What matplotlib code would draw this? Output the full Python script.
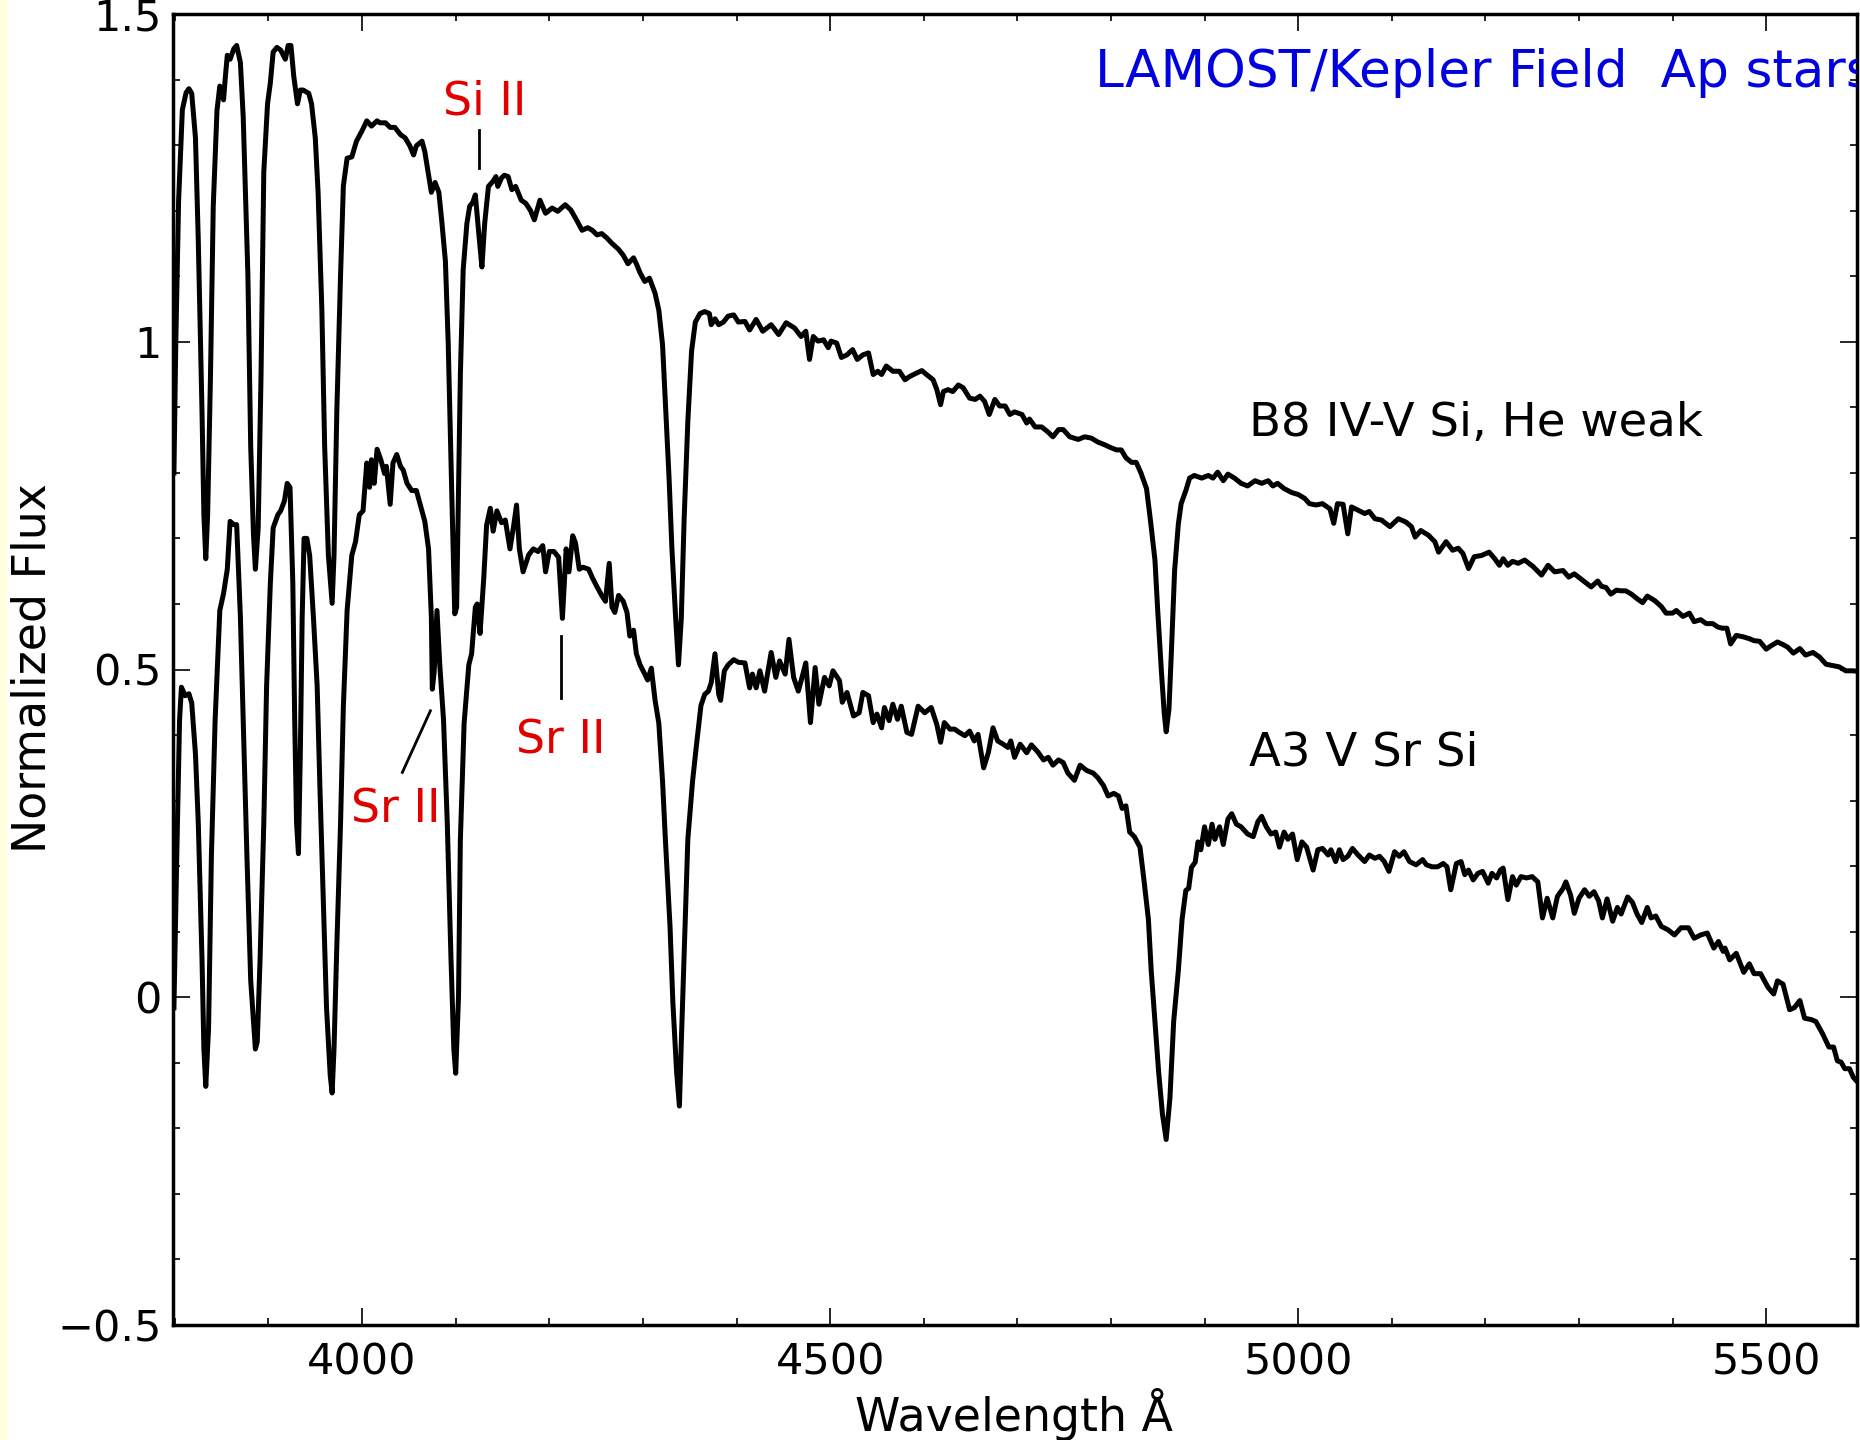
# LAMOST/Kepler field Ap star spectra: B8 IV-V Si (He weak) and A3 V Sr Si
import matplotlib
matplotlib.use("Agg")
import matplotlib.pyplot as plt
from matplotlib.ticker import MultipleLocator, FuncFormatter
from matplotlib.patches import Rectangle

# B8 IV-V Si, He weak  (upper spectrum), wavelength in Angstrom
wl_b8 = [3799, 3801, 3804, 3808, 3812, 3815, 3818, 3822, 3825, 3829,
         3831, 3833, 3835, 3838, 3841, 3845, 3848, 3850, 3852, 3854,
         3856, 3859, 3863, 3866, 3870, 3873, 3878, 3881, 3884, 3886,
         3889, 3892, 3895, 3899, 3902, 3905, 3909, 3913, 3918, 3921,
         3924, 3927, 3931, 3934, 3937, 3943, 3946, 3950, 3953, 3957,
         3960, 3964, 3968, 3970, 3973, 3977, 3980, 3984, 3989, 3994,
         4000, 4005, 4010, 4016, 4019, 4025, 4030, 4035, 4041, 4046,
         4051, 4055, 4058, 4064, 4067, 4071, 4074, 4078, 4082, 4085,
         4089, 4092, 4096, 4099, 4101, 4105, 4108, 4112, 4115, 4118,
         4121, 4125, 4128, 4131, 4135, 4140, 4143, 4145, 4149, 4152,
         4156, 4160, 4164, 4170, 4175, 4180, 4184, 4190, 4196, 4203,
         4209, 4217, 4223, 4229, 4235, 4241, 4246, 4251, 4256, 4261,
         4267, 4274, 4279, 4284, 4290, 4293, 4297, 4302, 4307, 4313,
         4317, 4321, 4324, 4328, 4331, 4335, 4338, 4341, 4344, 4348,
         4352, 4356, 4361, 4366, 4371, 4373, 4377, 4381, 4386, 4391,
         4397, 4402, 4409, 4414, 4421, 4428, 4437, 4445, 4453, 4462,
         4469, 4474, 4478, 4482, 4487, 4493, 4498, 4501, 4507, 4512,
         4518, 4524, 4529, 4535, 4541, 4546, 4551, 4555, 4560, 4567,
         4574, 4580, 4585, 4592, 4598, 4603, 4610, 4614, 4618, 4621,
         4626, 4631, 4637, 4642, 4649, 4655, 4660, 4665, 4670, 4676,
         4681, 4687, 4692, 4697, 4705, 4710, 4713, 4719, 4726, 4733,
         4738, 4744, 4749, 4756, 4765, 4772, 4779, 4786, 4793, 4799,
         4806, 4811, 4816, 4822, 4827, 4832, 4838, 4842, 4847, 4850,
         4854, 4857, 4859, 4862, 4865, 4868, 4872, 4875, 4880, 4884,
         4889, 4897, 4904, 4909, 4914, 4920, 4925, 4932, 4939, 4946,
         4954, 4961, 4968, 4973, 4978, 4985, 4993, 5000, 5007, 5012,
         5019, 5026, 5034, 5038, 5042, 5048, 5053, 5057, 5064, 5071,
         5076, 5082, 5089, 5098, 5107, 5115, 5121, 5125, 5131, 5139,
         5146, 5150, 5158, 5165, 5171, 5176, 5182, 5188, 5196, 5204,
         5210, 5215, 5219, 5224, 5229, 5235, 5242, 5251, 5260, 5267,
         5274, 5283, 5289, 5295, 5304, 5313, 5320, 5324, 5329, 5334,
         5340, 5345, 5350, 5356, 5363, 5368, 5373, 5381, 5388, 5393,
         5400, 5404, 5411, 5418, 5423, 5430, 5436, 5443, 5448, 5453,
         5458, 5462, 5468, 5475, 5482, 5487, 5493, 5500, 5505, 5512,
         5518, 5523, 5529, 5536, 5542, 5550, 5557, 5564, 5571, 5578,
         5585, 5593, 5598]
flux_b8 = [0.80, 1.00, 1.216, 1.354, 1.38, 1.386, 1.379, 1.311, 1.155, 0.893,
           0.736, 0.669, 0.736, 0.945, 1.207, 1.353, 1.390, 1.384, 1.369, 1.405,
           1.437, 1.431, 1.447, 1.452, 1.426, 1.343, 1.102, 0.841, 0.705, 0.653,
           0.716, 0.945, 1.259, 1.363, 1.395, 1.442, 1.449, 1.445, 1.431, 1.452,
           1.452, 1.405, 1.363, 1.384, 1.384, 1.379, 1.363, 1.311, 1.228, 1.050,
           0.841, 0.674, 0.601, 0.674, 0.893, 1.102, 1.238, 1.280, 1.282, 1.306,
           1.322, 1.337, 1.329, 1.337, 1.334, 1.334, 1.327, 1.327, 1.316, 1.311,
           1.299, 1.285, 1.299, 1.306, 1.290, 1.254, 1.228, 1.243, 1.228, 1.186,
           1.123, 0.998, 0.757, 0.585, 0.595, 0.950, 1.110, 1.181, 1.207, 1.212,
           1.224, 1.160, 1.114, 1.181, 1.237, 1.245, 1.252, 1.237, 1.250, 1.254,
           1.252, 1.232, 1.237, 1.216, 1.211, 1.200, 1.186, 1.216, 1.196, 1.204,
           1.199, 1.209, 1.201, 1.186, 1.170, 1.174, 1.170, 1.163, 1.165, 1.159,
           1.150, 1.141, 1.132, 1.119, 1.128, 1.119, 1.105, 1.092, 1.097, 1.074,
           1.048, 0.995, 0.906, 0.790, 0.684, 0.578, 0.507, 0.578, 0.728, 0.879,
           0.986, 1.030, 1.043, 1.046, 1.043, 1.026, 1.035, 1.026, 1.030, 1.039,
           1.041, 1.030, 1.031, 1.018, 1.034, 1.016, 1.026, 1.011, 1.029, 1.021,
           1.008, 1.016, 0.973, 1.008, 1.001, 1.003, 0.991, 1.001, 0.998, 0.976,
           0.980, 0.988, 0.973, 0.980, 0.983, 0.950, 0.955, 0.950, 0.963, 0.955,
           0.955, 0.942, 0.947, 0.952, 0.956, 0.950, 0.942, 0.927, 0.904, 0.924,
           0.927, 0.924, 0.934, 0.930, 0.914, 0.912, 0.917, 0.909, 0.889, 0.912,
           0.902, 0.902, 0.889, 0.893, 0.889, 0.876, 0.882, 0.870, 0.870, 0.862,
           0.855, 0.866, 0.866, 0.855, 0.851, 0.855, 0.853, 0.847, 0.843, 0.839,
           0.835, 0.835, 0.823, 0.816, 0.816, 0.800, 0.776, 0.730, 0.667, 0.589,
           0.495, 0.432, 0.405, 0.440, 0.542, 0.651, 0.722, 0.753, 0.773, 0.792,
           0.796, 0.792, 0.796, 0.792, 0.801, 0.788, 0.798, 0.792, 0.784, 0.780,
           0.788, 0.784, 0.788, 0.780, 0.784, 0.776, 0.770, 0.767, 0.761, 0.753,
           0.751, 0.753, 0.745, 0.723, 0.753, 0.752, 0.707, 0.748, 0.743, 0.738,
           0.741, 0.730, 0.728, 0.718, 0.730, 0.725, 0.718, 0.702, 0.712, 0.705,
           0.695, 0.679, 0.695, 0.682, 0.685, 0.677, 0.654, 0.672, 0.674, 0.679,
           0.669, 0.659, 0.669, 0.659, 0.665, 0.662, 0.667, 0.657, 0.644, 0.659,
           0.649, 0.651, 0.641, 0.646, 0.636, 0.626, 0.635, 0.627, 0.625, 0.615,
           0.621, 0.620, 0.620, 0.615, 0.607, 0.602, 0.612, 0.605, 0.596, 0.586,
           0.586, 0.590, 0.581, 0.586, 0.573, 0.576, 0.570, 0.570, 0.565, 0.563,
           0.563, 0.539, 0.552, 0.550, 0.547, 0.544, 0.543, 0.531, 0.536, 0.542,
           0.538, 0.534, 0.525, 0.532, 0.522, 0.526, 0.519, 0.508, 0.506, 0.504,
           0.498, 0.498, 0.497]

# A3 V Sr Si  (lower spectrum)
wl_a3 = [3799, 3802, 3805, 3807, 3811, 3815, 3818, 3822, 3825, 3829,
         3831, 3833, 3836, 3839, 3843, 3848, 3852, 3856, 3859, 3863,
         3866, 3870, 3873, 3877, 3881, 3886, 3888, 3891, 3895, 3898,
         3902, 3905, 3910, 3913, 3917, 3920, 3923, 3926, 3928, 3930,
         3932, 3934, 3936, 3938, 3941, 3944, 3948, 3952, 3955, 3959,
         3962, 3966, 3968, 3970, 3973, 3977, 3980, 3984, 3989, 3993,
         3997, 4001, 4005, 4008, 4010, 4013, 4016, 4020, 4024, 4026,
         4030, 4033, 4037, 4041, 4044, 4048, 4053, 4058, 4063, 4067,
         4071, 4074, 4075, 4077, 4080, 4083, 4087, 4091, 4095, 4098,
         4100, 4103, 4105, 4109, 4114, 4117, 4121, 4123, 4126, 4130,
         4133, 4137, 4140, 4144, 4149, 4153, 4158, 4162, 4165, 4168,
         4172, 4178, 4183, 4188, 4193, 4196, 4200, 4205, 4210, 4214,
         4218, 4221, 4225, 4228, 4232, 4236, 4242, 4246, 4251, 4256,
         4260, 4264, 4267, 4270, 4274, 4279, 4283, 4286, 4290, 4293,
         4297, 4302, 4305, 4309, 4313, 4317, 4321, 4324, 4329, 4332,
         4336, 4339, 4341, 4345, 4348, 4353, 4357, 4362, 4366, 4370,
         4373, 4377, 4381, 4383, 4387, 4391, 4397, 4402, 4409, 4414,
         4417, 4421, 4425, 4430, 4437, 4442, 4446, 4452, 4456, 4461,
         4466, 4470, 4474, 4479, 4484, 4488, 4494, 4499, 4503, 4510,
         4513, 4518, 4525, 4531, 4535, 4541, 4546, 4550, 4555, 4558,
         4563, 4567, 4572, 4576, 4582, 4587, 4594, 4601, 4608, 4614,
         4618, 4622, 4628, 4633, 4638, 4644, 4649, 4654, 4658, 4664,
         4669, 4674, 4679, 4685, 4690, 4693, 4697, 4703, 4710, 4715,
         4722, 4728, 4733, 4738, 4744, 4749, 4754, 4761, 4767, 4774,
         4781, 4786, 4792, 4797, 4803, 4808, 4812, 4816, 4820, 4825,
         4831, 4835, 4840, 4843, 4847, 4851, 4855, 4859, 4863, 4867,
         4872, 4876, 4880, 4883, 4886, 4890, 4893, 4896, 4900, 4904,
         4908, 4911, 4916, 4920, 4925, 4929, 4934, 4939, 4946, 4952,
         4957, 4961, 4966, 4971, 4976, 4980, 4985, 4989, 4994, 4999,
         5004, 5009, 5016, 5021, 5026, 5032, 5035, 5040, 5044, 5048,
         5053, 5058, 5064, 5071, 5076, 5082, 5087, 5092, 5097, 5103,
         5108, 5113, 5119, 5126, 5133, 5137, 5143, 5149, 5155, 5159,
         5163, 5169, 5174, 5178, 5182, 5187, 5192, 5197, 5203, 5207,
         5212, 5216, 5219, 5224, 5229, 5233, 5238, 5244, 5250, 5256,
         5261, 5266, 5272, 5277, 5283, 5286, 5291, 5295, 5300, 5306,
         5311, 5316, 5321, 5325, 5330, 5336, 5341, 5345, 5352, 5357,
         5362, 5367, 5373, 5377, 5382, 5388, 5395, 5402, 5409, 5417,
         5423, 5430, 5437, 5444, 5449, 5454, 5456, 5461, 5468, 5476,
         5482, 5487, 5494, 5502, 5508, 5512, 5518, 5525, 5530, 5536,
         5541, 5548, 5553, 5560, 5567, 5572, 5576, 5580, 5584, 5589,
         5593, 5598]
flux_a3 = [-0.016, 0.214, 0.423, 0.473, 0.460, 0.463, 0.449, 0.371, 0.266, 0.057,
           -0.079, -0.136, -0.047, 0.214, 0.423, 0.590, 0.616, 0.653, 0.726, 0.721,
           0.721, 0.580, 0.423, 0.214, 0.026, -0.079, -0.068, 0.057, 0.266, 0.475,
           0.632, 0.716, 0.736, 0.742, 0.757, 0.784, 0.778, 0.632, 0.423, 0.266,
           0.219, 0.371, 0.580, 0.700, 0.700, 0.674, 0.580, 0.475, 0.318, 0.130,
           -0.016, -0.120, -0.146, -0.079, 0.078, 0.266, 0.444, 0.590, 0.674, 0.695,
           0.736, 0.742, 0.815, 0.778, 0.820, 0.784, 0.836, 0.820, 0.799, 0.810,
           0.752, 0.815, 0.828, 0.810, 0.804, 0.784, 0.773, 0.773, 0.747, 0.726,
           0.684, 0.580, 0.470, 0.496, 0.590, 0.507, 0.423, 0.266, 0.057, -0.079,
           -0.116, 0.000, 0.241, 0.418, 0.507, 0.524, 0.595, 0.600, 0.555, 0.640,
           0.720, 0.746, 0.711, 0.742, 0.724, 0.728, 0.684, 0.720, 0.751, 0.684,
           0.649, 0.675, 0.684, 0.680, 0.689, 0.649, 0.680, 0.680, 0.671, 0.578,
           0.684, 0.649, 0.704, 0.693, 0.653, 0.656, 0.653, 0.640, 0.626, 0.613,
           0.604, 0.662, 0.595, 0.587, 0.613, 0.604, 0.587, 0.551, 0.560, 0.524,
           0.507, 0.493, 0.484, 0.502, 0.453, 0.418, 0.329, 0.241, 0.107, -0.008,
           -0.114, -0.166, -0.070, 0.107, 0.241, 0.329, 0.382, 0.445, 0.462, 0.467,
           0.480, 0.524, 0.462, 0.453, 0.498, 0.507, 0.515, 0.511, 0.510, 0.472,
           0.493, 0.472, 0.498, 0.467, 0.526, 0.488, 0.513, 0.493, 0.546, 0.488,
           0.467, 0.488, 0.510, 0.419, 0.503, 0.447, 0.488, 0.475, 0.498, 0.483,
           0.450, 0.465, 0.429, 0.434, 0.465, 0.460, 0.419, 0.432, 0.411, 0.442,
           0.422, 0.447, 0.424, 0.444, 0.404, 0.401, 0.444, 0.434, 0.442, 0.416,
           0.389, 0.419, 0.409, 0.409, 0.404, 0.399, 0.406, 0.391, 0.401, 0.350,
           0.373, 0.411, 0.391, 0.386, 0.381, 0.391, 0.366, 0.386, 0.373, 0.385,
           0.374, 0.362, 0.366, 0.354, 0.362, 0.358, 0.342, 0.331, 0.354, 0.346,
           0.342, 0.335, 0.323, 0.307, 0.311, 0.307, 0.288, 0.292, 0.252, 0.245,
           0.229, 0.182, 0.119, 0.041, -0.037, -0.115, -0.178, -0.217, -0.154, -0.037,
           0.041, 0.119, 0.163, 0.166, 0.198, 0.206, 0.237, 0.225, 0.260, 0.233,
           0.264, 0.241, 0.260, 0.233, 0.272, 0.280, 0.264, 0.260, 0.249, 0.245,
           0.268, 0.276, 0.260, 0.249, 0.252, 0.229, 0.252, 0.241, 0.249, 0.210,
           0.237, 0.229, 0.194, 0.225, 0.227, 0.217, 0.225, 0.207, 0.225, 0.210,
           0.215, 0.227, 0.217, 0.207, 0.217, 0.212, 0.215, 0.207, 0.192, 0.222,
           0.215, 0.222, 0.207, 0.202, 0.210, 0.202, 0.199, 0.199, 0.204, 0.199,
           0.164, 0.204, 0.207, 0.187, 0.194, 0.179, 0.189, 0.192, 0.174, 0.189,
           0.182, 0.194, 0.197, 0.149, 0.184, 0.171, 0.184, 0.182, 0.184, 0.176,
           0.121, 0.151, 0.121, 0.154, 0.166, 0.176, 0.156, 0.128, 0.151, 0.164,
           0.154, 0.161, 0.147, 0.121, 0.150, 0.116, 0.137, 0.127, 0.153, 0.145,
           0.127, 0.114, 0.137, 0.121, 0.124, 0.108, 0.103, 0.095, 0.106, 0.106,
           0.090, 0.095, 0.098, 0.075, 0.085, 0.070, 0.075, 0.057, 0.067, 0.038,
           0.051, 0.036, 0.036, 0.015, 0.005, 0.025, 0.020, -0.019, -0.016, -0.005,
           -0.032, -0.034, -0.037, -0.055, -0.076, -0.076, -0.097, -0.099, -0.109, -0.109,
           -0.122, -0.130]

# Line identifications: label, text position, marker segment
line_labels = ["Si II", "Sr II", "Sr II"]
label_xy = [(4131, 1.346), (4036, 0.266), (4212, 0.372)]
marker_x = [(4125, 4125), (4043, 4073), (4213, 4213)]
marker_y = [(1.265, 1.323), (0.343, 0.437), (0.456, 0.551)]

star_labels = ["B8 IV-V Si, He weak", "A3 V Sr Si"]
star_label_xy = [(4948, 0.856), (4948, 0.354)]
title_text = "LAMOST/Kepler Field  Ap stars"

plt.rcParams['font.family'] = ['DejaVu Sans']
fig = plt.figure(figsize=(18.6, 14.4), dpi=100)
ax = fig.add_axes([173 / 1860, 1 - 1325 / 1440, 1684 / 1860, 1311 / 1440])

# thin pale strip down the left edge of the original image
fig.patches.append(Rectangle((0, 0), 6 / 1860, 1, transform=fig.transFigure,
                             color='#ffffdc', zorder=0))

ax.plot(wl_b8, flux_b8, color='black', lw=3.6, solid_joinstyle='round')
ax.plot(wl_a3, flux_a3, color='black', lw=3.6, solid_joinstyle='round')

for lab, (tx, ty), mx, my in zip(line_labels, label_xy, marker_x, marker_y):
    ax.text(tx, ty, lab, color='#e00000', fontsize=33, ha='center', va='baseline')
    ax.plot(mx, my, color='black', lw=2)

for lab, (tx, ty) in zip(star_labels, star_label_xy):
    ax.text(tx, ty, lab, color='black', fontsize=33.6, ha='left', va='baseline')

ax.text(4783, 1.389, title_text, color='#0000e0', fontsize=37.3,
        ha='left', va='baseline', clip_on=True)

ax.set_xlim(3798, 5597)
ax.set_ylim(-0.5, 1.5)
ax.xaxis.set_major_locator(MultipleLocator(500))
ax.xaxis.set_minor_locator(MultipleLocator(100))
ax.yaxis.set_major_locator(MultipleLocator(0.5))
ax.yaxis.set_minor_locator(MultipleLocator(0.1))
ax.yaxis.set_major_formatter(FuncFormatter(lambda v, p: ('%g' % v).replace('-', '\u2212')))

ax.tick_params(which='both', direction='in', top=True, right=True, width=1.2)
ax.tick_params(which='major', length=12, labelsize=31)
ax.tick_params(which='minor', length=5)
ax.tick_params(axis='x', which='major', pad=12)
ax.tick_params(axis='y', which='major', pad=8)
for sp in ax.spines.values():
    sp.set_linewidth(2.5)

# axis titles placed as in the original (tight to the figure edges)
fig.text(1014 / 1860, 1 - 1431 / 1440, 'Wavelength Å', fontsize=33,
         ha='center', va='baseline')
fig.text(33 / 1860, 1 - 668 / 1440, 'Normalized Flux', fontsize=33,
         ha='center', va='center', rotation=90)

fig.savefig('out.png', dpi=100)
